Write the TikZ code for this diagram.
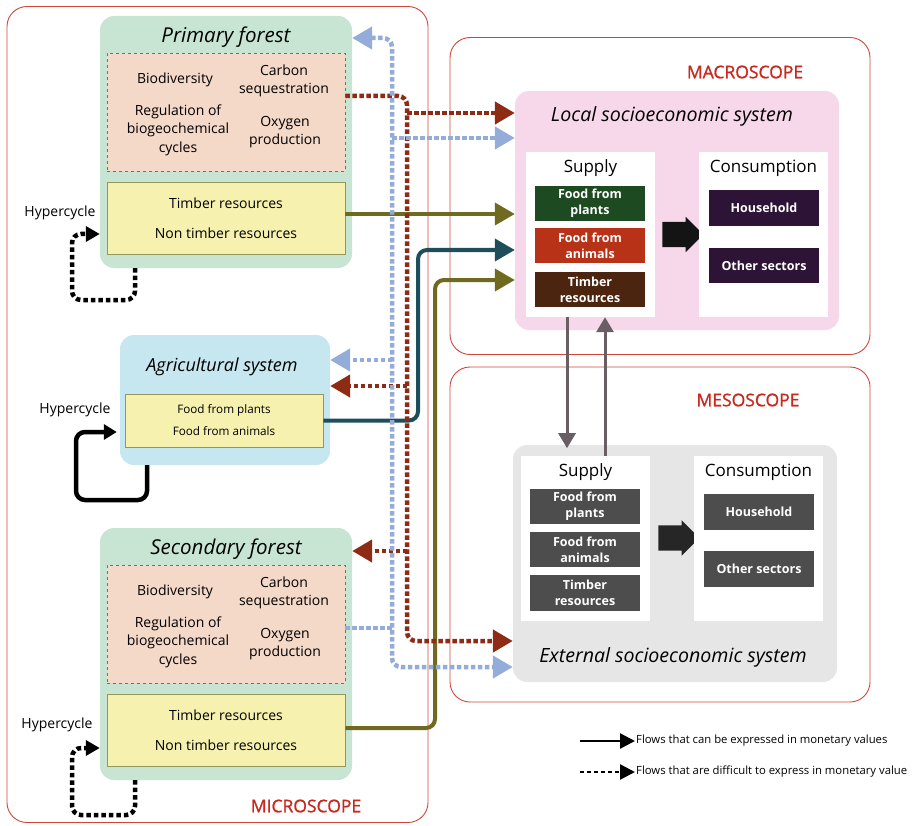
\documentclass[tikz,border=0pt]{standalone}
\usepackage{fontspec}
\setmainfont{Open Sans}
\newfontfamily\scopefam{Open Sans}[FakeBold=1.1]
\usepackage{tikz}
\usetikzlibrary{positioning,arrows.meta,shapes.arrows,calc}
\definecolor{scopered}{RGB}{208,70,58}
\definecolor{scopetext}{RGB}{200,40,30}
\definecolor{ecogreen}{RGB}{200,229,211}
\definecolor{servfill}{RGB}{245,217,200}
\definecolor{servred}{RGB}{217,69,58}
\definecolor{resfill}{RGB}{247,241,176}
\definecolor{resedge}{RGB}{150,150,90}
\definecolor{agblue}{RGB}{198,230,240}
\definecolor{localpink}{RGB}{247,216,234}
\definecolor{extgray}{RGB}{230,230,230}
\definecolor{plantgreen}{RGB}{30,74,34}
\definecolor{animalred}{RGB}{184,50,24}
\definecolor{timberbrown}{RGB}{75,37,15}
\definecolor{consviolet}{RGB}{45,20,54}
\definecolor{goodgray}{RGB}{77,77,77}
\definecolor{flowolive}{RGB}{111,106,31}
\definecolor{flowteal}{RGB}{31,78,91}
\definecolor{flowred}{RGB}{142,43,21}
\definecolor{flowblue}{RGB}{147,172,217}
\definecolor{tradegray}{RGB}{104,94,99}
\newcommand{\ttlfont}{\fontsize{20.5}{24}\selectfont\itshape}
\newcommand{\systtlfont}{\fontsize{19.6}{24}\selectfont\itshape}
\newcommand{\srvfont}{\fontsize{14}{18.5}\selectfont}
\newcommand{\resfont}{\fontsize{14}{18}\selectfont}
\newcommand{\agfont}{\fontsize{11.7}{22}\selectfont}
\newcommand{\hdfont}{\fontsize{17}{20}\selectfont}
\newcommand{\goodfont}{\fontsize{12.5}{16}\selectfont\bfseries}
\newcommand{\scpfont}{\scopefam\fontsize{17.5}{20}\selectfont}
\newcommand{\lgdfont}{\fontsize{11.3}{14}\selectfont}

\begin{document}
\begin{tikzpicture}[x=1pt, y=-1pt,
    scopebox/.style={draw=scopered, line width=0.9pt, rounded corners=20pt, inner sep=0pt},
    scopelbl/.style={text=scopetext, font=\scpfont},
    ecobox/.style={fill=ecogreen, rounded corners=14pt, inner sep=0pt,
                   minimum width=252pt, minimum height=252pt},
    servbox/.style={draw=servred, dashed, fill=servfill, line width=0.8pt, inner sep=0pt,
                    minimum width=238pt, minimum height=118pt},
    resbox/.style={draw=resedge, fill=resfill, line width=0.8pt, inner sep=0pt, align=center},
    ttl/.style={font=\ttlfont},
    srv/.style={font=\srvfont, align=center},
    hyp/.style={font=\resfont},
    sysbox/.style={rounded corners=14pt, inner sep=0pt, minimum width=324pt},
    panel/.style={fill=white, minimum width=129pt, minimum height=165pt, inner sep=0pt},
    hd/.style={font=\hdfont},
    good/.style={text=white, font=\goodfont, align=center, minimum width=110pt,
                 minimum height=35pt, inner sep=0pt},
    blockarr/.style={single arrow, fill=black!92, minimum height=41pt,
                     single arrow head extend=5pt, single arrow head indent=0pt, inner sep=0pt},
    solidflow/.style={line width=4pt, -{Triangle[length=20pt,width=22pt]}},
    dotflow/.style={line width=4.5pt, dash pattern=on 4.5pt off 2.5pt,
                    -{Triangle[length=20pt,width=22pt]}},
    tradearr/.style={draw=tradegray, line width=3pt, -{Triangle[length=15pt,width=17pt]}},
    loopdot/.style={line width=4.5pt, dash pattern=on 4.5pt off 3pt, rounded corners=9pt,
                    -{Triangle[length=14pt,width=15pt]}},
    loopsolid/.style={line width=4.5pt, rounded corners=9pt,
                      -{Triangle[length=13pt,width=15pt]}},
    lgd/.style={font=\lgdfont, anchor=west, inner sep=1pt}
  ]
  \useasboundingbox (0,0) rectangle (920,826);

  % ===== Scope frames =====
  \node[scopebox, minimum width=421pt, minimum height=816pt] (micro) at (217.5,414.5) {};
  \node[scopebox, minimum width=420pt, minimum height=317pt] (macro) at (660,196) {};
  \node[scopebox, minimum width=420pt, minimum height=335pt] (meso)  at (660,534.5) {};
  \node[scopelbl] (microlbl) at (306,806) {MICROSCOPE};
  \node[scopelbl] (macrolbl) at (745,72)  {MACROSCOPE};
  \node[scopelbl] (mesolbl)  at (748,400) {MESOSCOPE};

  % ===== Primary forest =====
  \node[ecobox] (pf) at (226,142) {};
  \node[ttl] (pftitle) at (226,37) {Primary forest};
  \node[servbox] (pfserv) at (226,112) {};
  \node[srv] (pfbio)  at (175,80)  {Biodiversity};
  \node[srv] (pfcarb) at (284,81)  {Carbon\\sequestration};
  \node[srv] (pfreg)  at (178,130) {Regulation of\\biogeochemical\\cycles};
  \node[srv] (pfoxy)  at (285,132) {Oxygen\\production};
  \node[resbox, minimum width=238pt, minimum height=72pt, font=\resfont] (pfres) at (226,218)
    {Timber resources\\[12pt]Non timber resources};
  \node[hyp] (pfhyp) at (60,213) {Hypercycle};
  \coordinate (pfhook) at (72,300);

  % ===== Agricultural system =====
  \node[ecobox, fill=agblue, minimum width=210pt, minimum height=130pt] (ag) at (225,400) {};
  \node[font=\fontsize{18}{22}\selectfont\itshape] (agtitle) at (222,367) {Agricultural system};
  \node[resbox, minimum width=198pt, minimum height=53pt, font=\agfont] (agres) at (224,420.5)
    {Food from plants\\Food from animals};
  \node[hyp] (aghyp) at (75,410) {Hypercycle};
  \coordinate (aghook) at (76,500);

  % ===== Secondary forest =====
  \node[ecobox] (sf) at (226,654) {};
  \node[ttl] (sftitle) at (226,549) {Secondary forest};
  \node[servbox] (sfserv) at (226,624) {};
  \node[srv] (sfbio)  at (175,592) {Biodiversity};
  \node[srv] (sfcarb) at (284,593) {Carbon\\sequestration};
  \node[srv] (sfreg)  at (178,642) {Regulation of\\biogeochemical\\cycles};
  \node[srv] (sfoxy)  at (285,644) {Oxygen\\production};
  \node[resbox, minimum width=238pt, minimum height=72pt, font=\resfont] (sfres) at (226,730)
    {Timber resources\\[12pt]Non timber resources};
  \node[hyp] (sfhyp) at (57,725) {Hypercycle};
  \coordinate (sfhook) at (72,815);

  % ===== Local socioeconomic system =====
  \node[sysbox, fill=localpink, minimum height=239pt] (loc) at (677,210.5) {};
  \node[font=\systtlfont] (loctitle) at (672,116) {Local socioeconomic system};
  \node[panel] (locsup) at (590.5,234.5) {};
  \node[hd] (locsuphd) at (590.5,168) {Supply};
  \node[good, fill=plantgreen]  (locplant)  at (590,203.5) {Food from\\plants};
  \node[good, fill=animalred]   (locanimal) at (590,245.5) {Food from\\animals};
  \node[good, fill=timberbrown] (loctimber) at (590,289.5) {Timber\\resources};
  \node[blockarr] (locarr) at (676.5,234.5) {\rule{0pt}{25pt}};
  \node[panel] (loccon) at (763.5,234.5) {};
  \node[hd] (locconhd) at (763.5,168) {Consumption};
  \node[good, fill=consviolet, minimum height=36pt] (lochouse) at (764,208)   {Household};
  \node[good, fill=consviolet] (locother) at (764,265.5) {Other sectors};

  % ===== External socioeconomic system =====
  \node[sysbox, fill=extgray, minimum height=237pt] (ext) at (675,563.5) {};
  \node[font=\systtlfont] (exttitle) at (673,657) {External socioeconomic system};
  \node[panel] (extsup) at (585.5,538.5) {};
  \node[hd] (extsuphd) at (585.5,472) {Supply};
  \node[good, fill=goodgray] (extplant)  at (585,506.5) {Food from\\plants};
  \node[good, fill=goodgray] (extanimal) at (585,549.5) {Food from\\animals};
  \node[good, fill=goodgray, minimum height=36pt] (exttimber) at (585,593) {Timber\\resources};
  \node[blockarr, fill=black!85] (extarr) at (672.5,538) {\rule{0pt}{25pt}};
  \node[panel] (extcon) at (758.5,538.5) {};
  \node[hd] (extconhd) at (758.5,472) {Consumption};
  \node[good, fill=goodgray, minimum height=36pt] (exthouse) at (759,512) {Household};
  \node[good, fill=goodgray, minimum height=36pt] (extother) at (759,569) {Other sectors};

  % trade between local and external
  \draw[tradearr] ([xshift=-23.5pt]locsup.south) -- ++(0,131);
  \draw[tradearr] ([xshift=14.5pt]locsup.south |- extsup.north) -- ([xshift=14.5pt]locsup.south);

  % ===== Hypercycles =====
  \draw[loopdot]   ([xshift=-91pt]pf.south) |- (pfhook) |- ([yshift=-92pt]pf.west);
  \draw[loopsolid] ([xshift=-78pt]ag.south) |- (aghook) |- ([xshift=-3pt,yshift=-32pt]ag.west);
  \draw[loopdot]   ([xshift=-91pt]sf.south) |- (sfhook) |- ([yshift=-94pt]sf.west);

  % ===== Monetary flows =====
  \coordinate (tealup)  at (418,250);
  \coordinate (oliveup) at (435,280);
  \draw[solidflow, draw=flowolive] ([yshift=4pt]pfres.east) -- ([yshift=4pt]pfres.east -| loc.west);
  \draw[solidflow, draw=flowteal, rounded corners=9pt]
    (agres.east) -| (tealup) -- (tealup -| loc.west);
  \draw[solidflow, draw=flowolive, rounded corners=9pt]
    ([yshift=2pt]sfres.east) -| (oliveup) -- (oliveup -| loc.west);

  % ===== Non monetary flows =====
  \coordinate (redtop) at (407,113);
  \coordinate (redbot) at (407,641);
  \coordinate (bluetop) at (392,38);
  \coordinate (bluebot) at (392,667);
  \draw[dotflow, draw=flowred, rounded corners=9pt]
    ([yshift=16pt]pfserv.east) -| (redbot) -- (redbot -| ext.west);
  \draw[dotflow, draw=flowred] (redtop) -- (redtop -| loc.west);
  \draw[dotflow, draw=flowred] (407,386) -- (ag.east |- 0,386);
  \draw[dotflow, draw=flowred] (407,551) -- (sf.east |- 0,551);
  \draw[dotflow, {Triangle[length=20pt,width=22pt]}-{Triangle[length=20pt,width=22pt]},
        draw=flowblue, rounded corners=9pt]
    (pf.east |- bluetop) -| (bluebot) -- (bluebot -| ext.west);
  \draw[dotflow, -, draw=flowblue] ([yshift=-4pt]sfserv.east) -- ([yshift=-4pt]sfserv.east -| bluebot);
  \draw[dotflow, draw=flowblue] (392,138) -- (loc.west |- 0,138);
  \draw[dotflow, draw=flowblue] (392,360) -- (ag.east |- 0,360);

  % ===== Legend =====
  \node[lgd] (lgdsolid) at (635,741) {Flows that can be expressed in monetary values};
  \node[lgd] (lgddot)   at (635,772) {Flows that are difficult to express in monetary value};
  \coordinate (lgdsolidstart) at (580,741);
  \coordinate (lgddotstart)   at (580,772);
  \draw[line width=2.5pt, -{Triangle[length=15pt,width=15pt]}] (lgdsolidstart) -- (lgdsolid.west);
  \draw[line width=2.5pt, dash pattern=on 4pt off 3pt, -{Triangle[length=15pt,width=15pt]}]
    (lgddotstart) -- (lgddot.west);
\end{tikzpicture}
\end{document}
